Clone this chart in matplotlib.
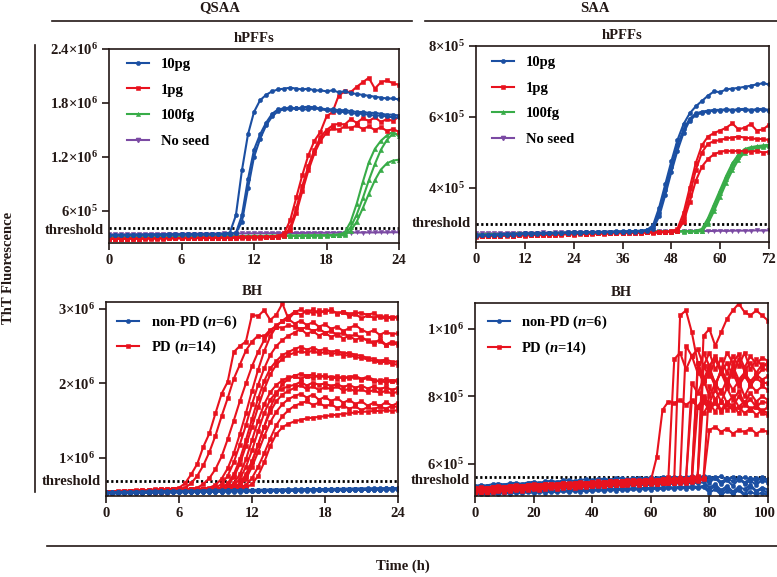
import matplotlib
matplotlib.use('Agg')
import matplotlib.pyplot as plt
import matplotlib.transforms as mtransforms
import numpy as np
from matplotlib.lines import Line2D

BLUE = '#1b4fa2'
RED = '#e8121e'
GREEN = '#38ac48'
PURPLE = '#7b4aa3'
INK = '#231815'

# ---------------- QSAA, hPFFs (values in 1e5 RFU, every 0.5 h) ----------------
qsaa_pff_time = np.arange(0, 24.5, 0.5)
qsaa_pff_10pg = [
    [3.30, 3.32, 3.31, 3.33, 3.34, 3.33, 3.35, 3.36, 3.35, 3.37,
     3.38, 3.37, 3.39, 3.40, 3.39, 3.41, 3.42, 3.41, 3.43, 3.48, 3.60,
     5.5, 10.5, 14.5, 17.0, 18.3, 18.9, 19.3, 19.5, 19.6, 19.7,
     19.6, 19.5, 19.6, 19.4, 19.4, 19.3, 19.4, 19.2, 19.3, 19.1,
     19.0, 18.9, 18.8, 18.7, 18.6, 18.5, 18.5, 18.4],
    [3.28, 3.30, 3.29, 3.31, 3.32, 3.31, 3.33, 3.34, 3.33, 3.35,
     3.36, 3.35, 3.37, 3.38, 3.37, 3.39, 3.40, 3.39, 3.41, 3.42, 3.45, 3.55,
     5.5, 9.5, 12.8, 14.5, 15.8, 16.8, 17.3, 17.4, 17.5, 17.4,
     17.5, 17.6, 17.5, 17.4, 17.3, 17.3, 17.2, 17.2, 17.1, 17.0,
     17.0, 16.9, 16.9, 16.8, 16.7, 16.7, 16.6],
    [3.32, 3.33, 3.34, 3.33, 3.35, 3.36, 3.35, 3.37, 3.38, 3.37,
     3.39, 3.40, 3.39, 3.41, 3.42, 3.41, 3.43, 3.44, 3.43, 3.45, 3.47, 3.52,
     4.8, 8.5, 12.0, 14.0, 15.5, 16.5, 17.1, 17.3, 17.3, 17.4,
     17.3, 17.3, 17.4, 17.3, 17.2, 17.1, 17.0, 17.0, 16.9, 16.8,
     16.8, 16.7, 16.6, 16.6, 16.5, 16.4, 16.4],
]
qsaa_pff_1pg = [
    [2.90, 2.92, 2.91, 2.93, 2.94, 2.93, 2.95, 2.96, 2.95, 2.97,
     2.98, 2.97, 2.99, 3.00, 2.99, 3.01, 3.02, 3.01, 3.03, 3.04,
     3.03, 3.05, 3.06, 3.05, 3.07, 3.08, 3.10, 3.14, 3.22,
     3.5, 5.0, 7.5, 10.0, 12.2, 13.8, 14.8, 16.5, 17.0, 18.8,
     19.3, 19.2, 19.8, 20.3, 20.8, 19.6, 20.3, 20.5, 20.2, 20.0],
    [2.88, 2.89, 2.90, 2.89, 2.91, 2.92, 2.91, 2.93, 2.94, 2.93,
     2.95, 2.96, 2.95, 2.97, 2.98, 2.97, 2.99, 3.00, 2.99, 3.01,
     3.02, 3.01, 3.03, 3.04, 3.03, 3.05, 3.06, 3.08, 3.12,
     3.2, 4.2, 6.3, 8.8, 11.0, 12.8, 14.2, 15.0, 15.5, 15.7,
     15.6, 16.2, 15.8, 16.3, 16.0, 16.4, 15.9, 16.2, 16.0, 16.5],
    [2.92, 2.93, 2.92, 2.94, 2.95, 2.94, 2.96, 2.97, 2.96, 2.98,
     2.99, 2.98, 3.00, 3.01, 3.00, 3.02, 3.03, 3.02, 3.04, 3.05,
     3.04, 3.06, 3.07, 3.06, 3.08, 3.09, 3.10, 3.12, 3.15,
     3.3, 3.9, 5.8, 8.2, 10.5, 12.4, 13.8, 14.7, 15.2, 15.0,
     15.4, 15.2, 15.5, 15.1, 15.4, 15.0, 15.3, 14.9, 15.1, 14.8],
]
qsaa_pff_100fg = [
    [3.05, 3.06, 3.05, 3.07, 3.08, 3.07, 3.09, 3.10, 3.09, 3.11,
     3.12, 3.11, 3.13, 3.14, 3.13, 3.15, 3.16, 3.15, 3.17, 3.18,
     3.17, 3.19, 3.20, 3.19, 3.21, 3.22, 3.21, 3.23, 3.24, 3.23,
     3.25, 3.26, 3.25, 3.27, 3.28, 3.27, 3.29, 3.32, 3.38,
     3.6, 4.8, 6.8, 9.2, 11.4, 12.9, 13.8, 14.4, 14.8, 14.3],
    [3.08, 3.07, 3.09, 3.10, 3.09, 3.11, 3.12, 3.11, 3.13, 3.14,
     3.13, 3.15, 3.16, 3.15, 3.17, 3.18, 3.17, 3.19, 3.20, 3.19,
     3.21, 3.22, 3.21, 3.23, 3.24, 3.23, 3.25, 3.26, 3.25, 3.27,
     3.28, 3.27, 3.29, 3.30, 3.29, 3.31, 3.32, 3.33, 3.35,
     3.4, 4.2, 5.6, 7.4, 9.4, 11.2, 12.8, 13.9, 14.6, 14.5],
    [3.03, 3.04, 3.05, 3.04, 3.06, 3.07, 3.06, 3.08, 3.09, 3.08,
     3.10, 3.11, 3.10, 3.12, 3.13, 3.12, 3.14, 3.15, 3.14, 3.16,
     3.17, 3.16, 3.18, 3.19, 3.18, 3.20, 3.21, 3.20, 3.22, 3.23,
     3.22, 3.24, 3.25, 3.24, 3.26, 3.27, 3.26, 3.28, 3.30,
     3.3, 3.8, 4.8, 6.3, 7.9, 9.4, 10.6, 11.3, 11.6, 11.7],
]
qsaa_pff_noseed = [
    [3.40, 3.41, 3.40, 3.42, 3.41, 3.43, 3.42, 3.44, 3.43, 3.45,
     3.44, 3.46, 3.45, 3.47, 3.46, 3.48, 3.47, 3.49, 3.48, 3.50,
     3.49, 3.51, 3.50, 3.52, 3.51, 3.53, 3.52, 3.54, 3.53, 3.55,
     3.54, 3.56, 3.55, 3.57, 3.56, 3.58, 3.57, 3.59, 3.58, 3.60,
     3.59, 3.61, 3.60, 3.62, 3.61, 3.63, 3.62, 3.64, 3.63],
]

# ---------------- SAA, hPFFs (values in 1e5 RFU, every 1.5 h) ----------------
saa_pff_time = np.arange(0, 73.5, 1.5)
saa_pff_10pg = [
    [2.66, 2.67, 2.68, 2.67, 2.69, 2.70, 2.69, 2.71, 2.72, 2.71,
     2.72, 2.73, 2.72, 2.74, 2.73, 2.74, 2.75, 2.74, 2.75, 2.76,
     2.75, 2.76, 2.77, 2.76, 2.77, 2.78, 2.77, 2.79, 2.82,
     2.95, 3.45, 4.10, 4.75, 5.35, 5.80, 6.10, 6.30, 6.45, 6.60,
     6.72, 6.70, 6.78, 6.80, 6.82, 6.85, 6.88, 6.92, 6.95, 6.92],
    [2.68, 2.67, 2.69, 2.68, 2.70, 2.69, 2.71, 2.70, 2.72, 2.71,
     2.73, 2.72, 2.74, 2.73, 2.74, 2.75, 2.74, 2.76, 2.75, 2.76,
     2.77, 2.76, 2.77, 2.78, 2.77, 2.78, 2.79, 2.80, 2.81,
     2.90, 3.30, 3.95, 4.60, 5.20, 5.65, 5.95, 6.10, 6.15, 6.18,
     6.20, 6.20, 6.22, 6.20, 6.22, 6.23, 6.20, 6.22, 6.23, 6.20],
    [2.67, 2.68, 2.67, 2.69, 2.68, 2.70, 2.71, 2.70, 2.71, 2.72,
     2.71, 2.73, 2.72, 2.73, 2.74, 2.73, 2.75, 2.74, 2.75, 2.76,
     2.75, 2.77, 2.76, 2.77, 2.78, 2.77, 2.78, 2.79, 2.80,
     2.85, 3.20, 3.80, 4.45, 5.05, 5.55, 5.90, 6.05, 6.12, 6.15,
     6.18, 6.18, 6.20, 6.18, 6.20, 6.20, 6.18, 6.20, 6.20, 6.18],
]
saa_pff_1pg = [
    [2.64, 2.65, 2.64, 2.66, 2.65, 2.67, 2.66, 2.68, 2.67, 2.69,
     2.68, 2.70, 2.69, 2.70, 2.71, 2.70, 2.71, 2.72, 2.71, 2.72,
     2.73, 2.72, 2.73, 2.74, 2.73, 2.74, 2.75, 2.74, 2.75, 2.76,
     2.75, 2.76, 2.78,
     2.85, 3.30, 4.00, 4.70, 5.20, 5.45, 5.55, 5.62, 5.70, 5.82,
     5.65, 5.70, 5.80, 5.62, 5.65, 5.78],
    [2.65, 2.64, 2.66, 2.65, 2.66, 2.67, 2.66, 2.68, 2.67, 2.68,
     2.69, 2.68, 2.70, 2.69, 2.70, 2.71, 2.70, 2.72, 2.71, 2.72,
     2.73, 2.72, 2.73, 2.74, 2.73, 2.75, 2.74, 2.75, 2.76, 2.75,
     2.76, 2.77, 2.77,
     2.80, 3.15, 3.80, 4.50, 5.00, 5.25, 5.32, 5.35, 5.40, 5.42,
     5.45, 5.42, 5.40, 5.38, 5.38, 5.35],
    [2.63, 2.64, 2.65, 2.64, 2.65, 2.66, 2.65, 2.67, 2.66, 2.67,
     2.68, 2.67, 2.69, 2.68, 2.69, 2.70, 2.69, 2.71, 2.70, 2.71,
     2.72, 2.71, 2.72, 2.73, 2.72, 2.74, 2.73, 2.74, 2.75, 2.74,
     2.75, 2.76, 2.76,
     2.78, 3.05, 3.60, 4.20, 4.60, 4.82, 4.95, 5.02, 5.05, 5.03,
     5.05, 5.03, 5.02, 5.05, 5.00, 5.02],
]
saa_pff_100fg = [
    [2.68, 2.69, 2.68, 2.70, 2.69, 2.70, 2.71, 2.70, 2.71, 2.72,
     2.71, 2.72, 2.73, 2.72, 2.73, 2.74, 2.73, 2.74, 2.75, 2.74,
     2.75, 2.75, 2.76, 2.75, 2.76, 2.76, 2.77, 2.76, 2.77, 2.77,
     2.78, 2.77, 2.78, 2.78, 2.79, 2.78, 2.79,
     2.85, 3.15, 3.55, 3.95, 4.35, 4.70, 4.95, 5.10, 5.15, 5.18,
     5.20, 5.22],
    [2.69, 2.68, 2.70, 2.69, 2.71, 2.70, 2.71, 2.72, 2.71, 2.72,
     2.73, 2.72, 2.73, 2.74, 2.73, 2.74, 2.75, 2.74, 2.75, 2.75,
     2.76, 2.75, 2.76, 2.76, 2.77, 2.76, 2.77, 2.77, 2.78, 2.77,
     2.78, 2.78, 2.79, 2.78, 2.79, 2.79, 2.79,
     2.80, 3.05, 3.45, 3.85, 4.25, 4.60, 4.88, 5.05, 5.12, 5.15,
     5.18, 5.20],
    [2.67, 2.68, 2.69, 2.68, 2.69, 2.70, 2.69, 2.70, 2.71, 2.70,
     2.71, 2.72, 2.71, 2.72, 2.73, 2.72, 2.73, 2.74, 2.73, 2.74,
     2.74, 2.75, 2.74, 2.75, 2.75, 2.76, 2.75, 2.76, 2.76, 2.77,
     2.76, 2.77, 2.77, 2.78, 2.77, 2.78, 2.78,
     2.78, 3.00, 3.35, 3.75, 4.15, 4.50, 4.80, 5.00, 5.10, 5.12,
     5.15, 5.18],
]
saa_pff_noseed = [
    [2.72, 2.72, 2.73, 2.72, 2.73, 2.73, 2.74, 2.73, 2.74, 2.74,
     2.74, 2.75, 2.74, 2.75, 2.75, 2.75, 2.76, 2.75, 2.76, 2.76,
     2.76, 2.76, 2.77, 2.76, 2.77, 2.77, 2.77, 2.77, 2.78, 2.77,
     2.78, 2.78, 2.78, 2.78, 2.79, 2.78, 2.79, 2.79, 2.79, 2.79,
     2.80, 2.79, 2.80, 2.80, 2.80, 2.80, 2.81, 2.80, 2.81],
]

# ---------------- QSAA, BH (values in 1e5 RFU, every 0.5 h) ----------------
qsaa_bh_time = np.arange(0, 24.5, 0.5)
qsaa_bh_nonpd = [
    [5.30, 5.31, 5.33, 5.34, 5.36, 5.37, 5.38, 5.40, 5.41, 5.42,
     5.44, 5.45, 5.46, 5.48, 5.49, 5.50, 5.51, 5.53, 5.54, 5.55,
     5.56, 5.57, 5.58, 5.60, 5.61, 5.62, 5.63, 5.64, 5.65, 5.66,
     5.67, 5.68, 5.69, 5.70, 5.71, 5.72, 5.73, 5.74, 5.75, 5.76,
     5.77, 5.78, 5.79, 5.80, 5.81, 5.82, 5.83, 5.84, 5.85],
    [5.38, 5.40, 5.41, 5.42, 5.44, 5.45, 5.47, 5.48, 5.49, 5.51,
     5.52, 5.53, 5.55, 5.56, 5.57, 5.58, 5.60, 5.61, 5.62, 5.63,
     5.64, 5.66, 5.67, 5.68, 5.69, 5.70, 5.71, 5.72, 5.73, 5.74,
     5.75, 5.76, 5.77, 5.78, 5.79, 5.80, 5.81, 5.82, 5.83, 5.84,
     5.85, 5.86, 5.87, 5.88, 5.89, 5.90, 5.91, 5.92, 5.93],
    [5.22, 5.24, 5.25, 5.26, 5.28, 5.29, 5.31, 5.32, 5.33, 5.35,
     5.36, 5.37, 5.38, 5.40, 5.41, 5.42, 5.43, 5.45, 5.46, 5.47,
     5.48, 5.49, 5.50, 5.51, 5.52, 5.54, 5.55, 5.56, 5.57, 5.58,
     5.59, 5.60, 5.61, 5.62, 5.63, 5.64, 5.65, 5.66, 5.67, 5.68,
     5.69, 5.70, 5.71, 5.72, 5.73, 5.74, 5.75, 5.76, 5.77],
    [5.34, 5.35, 5.37, 5.38, 5.39, 5.41, 5.42, 5.43, 5.45, 5.46,
     5.47, 5.49, 5.50, 5.51, 5.52, 5.54, 5.55, 5.56, 5.57, 5.58,
     5.60, 5.61, 5.62, 5.63, 5.64, 5.65, 5.66, 5.67, 5.68, 5.69,
     5.70, 5.71, 5.72, 5.73, 5.74, 5.75, 5.76, 5.77, 5.78, 5.79,
     5.80, 5.81, 5.82, 5.83, 5.84, 5.85, 5.86, 5.87, 5.88],
    [5.26, 5.27, 5.29, 5.30, 5.31, 5.33, 5.34, 5.35, 5.37, 5.38,
     5.39, 5.41, 5.42, 5.43, 5.44, 5.46, 5.47, 5.48, 5.49, 5.50,
     5.51, 5.53, 5.54, 5.55, 5.56, 5.57, 5.58, 5.59, 5.60, 5.61,
     5.62, 5.63, 5.64, 5.65, 5.66, 5.67, 5.68, 5.69, 5.70, 5.71,
     5.72, 5.73, 5.74, 5.75, 5.76, 5.77, 5.78, 5.79, 5.80],
    [5.42, 5.43, 5.45, 5.46, 5.47, 5.49, 5.50, 5.51, 5.53, 5.54,
     5.55, 5.57, 5.58, 5.59, 5.60, 5.62, 5.63, 5.64, 5.65, 5.66,
     5.68, 5.69, 5.70, 5.71, 5.72, 5.73, 5.74, 5.75, 5.76, 5.77,
     5.78, 5.79, 5.80, 5.81, 5.82, 5.83, 5.84, 5.85, 5.86, 5.87,
     5.88, 5.89, 5.90, 5.91, 5.92, 5.93, 5.94, 5.95, 5.96],
]
qsaa_bh_pd = [
    [5.5, 5.5, 5.6, 5.6, 5.6, 5.7, 5.7, 5.7, 5.8, 5.8, 5.8, 5.9, 6.0,
     6.6, 7.8, 9.2, 11.5, 13.3, 16.0, 18.6, 20.2, 24.2, 25.0, 25.6, 29.2,
     29.0, 29.8, 28.5, 29.2, 30.7, 28.6, 29.5, 29.9, 29.5, 29.9, 29.3,
     29.8, 29.7, 29.4, 29.6, 29.3, 29.5, 29.4, 29.2, 29.4, 28.9, 29.0, 28.8, 28.8],
    [5.5, 5.5, 5.5, 5.6, 5.6, 5.6, 5.7, 5.7, 5.7, 5.8, 5.8, 5.8, 5.9, 6.0,
     6.6, 7.6, 9.0, 10.8, 13.0, 15.6, 18.0, 20.6, 22.5, 24.4, 25.6, 26.4,
     26.3, 27.2, 27.6, 27.4, 27.8, 27.6, 27.3, 27.5, 27.0, 27.3, 26.8, 27.0,
     26.5, 26.8, 26.2, 26.6, 26.0, 25.8, 25.5, 25.7, 25.1, 25.4, 25.2],
    [5.5, 5.5, 5.5, 5.5, 5.6, 5.6, 5.6, 5.6, 5.7, 5.7, 5.7, 5.8, 5.8, 5.8, 5.9, 6.0,
     6.5, 7.3, 8.5, 10.2, 12.5, 15.0, 17.6, 20.0, 22.3, 24.2, 25.8, 27.0,
     27.8, 28.3, 28.6, 28.0, 28.4, 27.8, 28.2, 27.6, 27.9, 27.3, 27.6, 27.0,
     27.4, 27.8, 27.2, 26.8, 27.1, 26.5, 26.9, 26.6, 26.7],
    [5.5, 5.5, 5.5, 5.5, 5.6, 5.6, 5.6, 5.6, 5.7, 5.7, 5.7, 5.7, 5.8, 5.8, 5.8, 5.9, 5.9, 6.0,
     6.4, 7.2, 8.6, 10.6, 13.2, 16.0, 19.0, 21.8, 24.3, 26.3, 27.6, 28.4,
     29.0, 29.6, 29.2, 29.7, 29.4, 29.8, 29.5, 29.9, 29.3, 29.6, 29.0,
     29.3, 28.7, 29.1, 28.8, 29.0, 28.6, 28.9, 28.9],
    [5.5, 5.5, 5.5, 5.5, 5.6, 5.6, 5.6, 5.6, 5.6, 5.7, 5.7, 5.7, 5.7, 5.8, 5.8, 5.8, 5.9, 5.9, 6.0,
     6.5, 7.6, 9.4, 11.8, 14.4, 17.2, 19.8, 22.0, 23.8, 25.0, 25.8, 26.4,
     26.8, 27.3, 26.6, 27.0, 26.4, 26.8, 26.2, 26.6, 26.0, 26.4, 25.8,
     26.2, 25.7, 25.3, 25.9, 25.2, 25.6, 25.4],
    [5.5, 5.5, 5.5, 5.5, 5.5, 5.6, 5.6, 5.6, 5.6, 5.6, 5.7, 5.7, 5.7, 5.7, 5.8, 5.8, 5.8, 5.9, 5.9, 6.0,
     6.6, 7.8, 9.8, 12.4, 15.2, 18.0, 20.3, 22.0, 23.0, 23.8, 24.2, 24.6,
     24.9, 24.5, 24.8, 24.4, 24.6, 24.2, 24.4, 24.0, 24.1, 23.8, 23.7,
     23.4, 23.3, 23.0, 23.2, 22.9, 22.9],
    [5.4, 5.4, 5.5, 5.5, 5.5, 5.5, 5.6, 5.6, 5.6, 5.6, 5.6, 5.7, 5.7, 5.7, 5.7, 5.8, 5.8, 5.8, 5.9, 6.0,
     6.4, 7.4, 9.2, 11.6, 14.2, 16.8, 19.2, 21.2, 22.5, 23.3, 23.8, 24.1,
     24.3, 24.1, 24.4, 24.0, 24.2, 23.9, 24.1, 23.7, 23.8, 23.5, 23.4,
     23.2, 23.0, 22.8, 22.9, 22.6, 22.5],
    [5.4, 5.4, 5.5, 5.5, 5.5, 5.5, 5.5, 5.6, 5.6, 5.6, 5.6, 5.6, 5.7, 5.7, 5.7, 5.7, 5.8, 5.8, 5.8, 5.9, 6.0,
     6.6, 7.8, 9.8, 12.4, 15.0, 17.2, 18.8, 19.8, 20.4, 20.8, 21.0, 20.6,
     21.0, 20.7, 21.1, 20.8, 20.9, 20.6, 20.9, 20.7, 20.8, 20.5, 20.7,
     20.3, 20.4, 20.1, 20.3, 20.2],
    [5.4, 5.4, 5.4, 5.5, 5.5, 5.5, 5.5, 5.5, 5.6, 5.6, 5.6, 5.6, 5.6, 5.7, 5.7, 5.7, 5.7, 5.8, 5.8, 5.9, 6.0,
     6.3, 7.2, 8.8, 11.0, 13.6, 16.0, 17.8, 18.8, 19.3, 19.6, 19.8, 20.2,
     19.7, 20.1, 19.8, 20.0, 19.6, 19.9, 19.5, 19.8, 19.4, 19.7, 19.3,
     19.6, 19.2, 19.5, 19.1, 19.4],
    [5.4, 5.4, 5.4, 5.5, 5.5, 5.5, 5.5, 5.5, 5.6, 5.6, 5.6, 5.6, 5.6, 5.7, 5.7, 5.7, 5.7, 5.8, 5.8, 5.8, 5.9, 6.0,
     6.6, 7.8, 9.6, 11.8, 14.2, 16.2, 17.6, 18.5, 19.0, 19.4, 19.8, 19.2,
     19.6, 19.1, 19.5, 19.2, 19.6, 19.0, 19.3, 18.9, 19.2, 18.8, 19.1,
     18.7, 19.0, 18.6, 18.9],
    [5.3, 5.4, 5.4, 5.4, 5.5, 5.5, 5.5, 5.5, 5.5, 5.6, 5.6, 5.6, 5.6, 5.6, 5.7, 5.7, 5.7, 5.8, 5.8, 5.8, 5.9, 6.0,
     6.3, 7.2, 8.8, 10.8, 12.9, 14.8, 16.2, 17.2, 17.9, 18.3, 18.6, 18.1,
     18.5, 17.8, 18.2, 17.6, 18.0, 17.4, 17.8, 17.2, 17.6, 17.0, 17.4,
     16.9, 17.5, 17.0, 17.4],
    [5.3, 5.4, 5.4, 5.4, 5.4, 5.5, 5.5, 5.5, 5.5, 5.5, 5.6, 5.6, 5.6, 5.6, 5.6, 5.7, 5.7, 5.7, 5.7, 5.8, 5.8, 5.9, 6.0,
     6.4, 7.3, 8.8, 10.6, 12.6, 14.4, 15.6, 16.4, 17.0, 17.3, 17.6, 17.1,
     17.4, 16.9, 17.2, 16.7, 17.0, 16.6, 16.9, 16.4, 16.8, 16.5, 16.9,
     16.6, 17.0, 16.8],
    [5.3, 5.3, 5.4, 5.4, 5.4, 5.4, 5.5, 5.5, 5.5, 5.5, 5.5, 5.6, 5.6, 5.6, 5.6, 5.6, 5.7, 5.7, 5.7, 5.7, 5.8, 5.8, 5.9, 6.0,
     6.5, 7.6, 9.4, 11.6, 13.2, 14.1, 14.6, 14.9, 15.1, 15.3, 15.4, 15.5,
     15.6, 15.7, 15.8, 15.9, 16.0, 16.1, 16.2, 16.2, 16.3, 16.3, 16.4,
     16.3, 16.4],
    [5.4, 5.4, 5.5, 5.5, 5.5, 5.5, 5.5, 5.6, 5.6, 5.6, 5.6, 5.6, 5.7, 5.7, 5.7, 5.7, 5.7, 5.8, 5.8, 5.8, 5.9, 6.0,
     6.5, 7.6, 9.4, 11.7, 14.2, 16.7, 18.6, 19.9, 20.6, 21.0, 21.3, 21.0,
     21.2, 20.8, 21.1, 20.7, 21.0, 20.6, 20.9, 21.0, 20.6, 20.9, 20.5,
     20.2, 20.6, 20.3, 20.5],
]

# ---------------- SAA, BH (values in 1e5 RFU, every 2 h) ----------------
saa_bh_time = np.arange(0, 101, 2)
saa_bh_nonpd = [
    [5.35, 5.38, 5.36, 5.40, 5.42, 5.39, 5.43, 5.44, 5.41, 5.45,
     5.47, 5.44, 5.48, 5.50, 5.47, 5.51, 5.52, 5.49, 5.53, 5.54,
     5.52, 5.55, 5.56, 5.53, 5.57, 5.58, 5.55, 5.58, 5.59, 5.57,
     5.60, 5.58, 5.61, 5.59, 5.62, 5.60, 5.61, 5.63, 5.60, 5.64,
     5.62, 5.58, 5.63, 5.55, 5.60, 5.52, 5.61, 5.54, 5.59, 5.50, 5.56],
    [5.10, 5.12, 5.09, 5.13, 5.11, 5.14, 5.12, 5.15, 5.13, 5.16,
     5.14, 5.17, 5.15, 5.18, 5.16, 5.19, 5.17, 5.20, 5.18, 5.21,
     5.19, 5.22, 5.20, 5.23, 5.21, 5.24, 5.22, 5.25, 5.23, 5.26,
     5.24, 5.27, 5.25, 5.28, 5.26, 5.29, 5.27, 5.30, 5.28, 5.31,
     5.15, 5.25, 5.08, 5.20, 5.10, 5.22, 5.06, 5.18, 5.09, 5.15, 5.07],
    [5.25, 5.28, 5.26, 5.30, 5.27, 5.31, 5.29, 5.33, 5.30, 5.34,
     5.32, 5.36, 5.33, 5.37, 5.35, 5.39, 5.36, 5.40, 5.38, 5.42,
     5.39, 5.43, 5.41, 5.45, 5.42, 5.46, 5.44, 5.48, 5.45, 5.49,
     5.47, 5.50, 5.48, 5.52, 5.49, 5.53, 5.51, 5.54, 5.52, 5.55,
     5.45, 5.58, 5.40, 5.52, 5.35, 5.55, 5.42, 5.50, 5.38, 5.53, 5.44],
    [5.18, 5.20, 5.17, 5.21, 5.19, 5.23, 5.20, 5.24, 5.22, 5.25,
     5.23, 5.27, 5.24, 5.28, 5.26, 5.30, 5.27, 5.31, 5.29, 5.32,
     5.30, 5.34, 5.31, 5.35, 5.33, 5.37, 5.34, 5.38, 5.36, 5.39,
     5.37, 5.41, 5.38, 5.42, 5.40, 5.44, 5.41, 5.45, 5.43, 5.46,
     5.30, 5.40, 5.22, 5.35, 5.18, 5.32, 5.25, 5.38, 5.20, 5.30, 5.24],
    [5.30, 5.32, 5.35, 5.31, 5.36, 5.34, 5.38, 5.35, 5.39, 5.37,
     5.41, 5.38, 5.42, 5.40, 5.44, 5.41, 5.45, 5.43, 5.47, 5.44,
     5.48, 5.46, 5.50, 5.47, 5.51, 5.49, 5.53, 5.50, 5.54, 5.52,
     5.55, 5.53, 5.57, 5.54, 5.58, 5.56, 5.59, 5.57, 5.60, 5.58,
     5.50, 5.62, 5.46, 5.58, 5.48, 5.60, 5.45, 5.57, 5.49, 5.61, 5.52],
    [5.14, 5.16, 5.13, 5.17, 5.15, 5.18, 5.16, 5.19, 5.17, 5.20,
     5.18, 5.21, 5.19, 5.22, 5.20, 5.23, 5.21, 5.24, 5.22, 5.25,
     5.23, 5.26, 5.24, 5.27, 5.25, 5.28, 5.26, 5.29, 5.27, 5.30,
     5.28, 5.31, 5.29, 5.32, 5.30, 5.33, 5.31, 5.34, 5.32, 5.35,
     5.22, 5.36, 5.12, 5.30, 5.15, 5.28, 5.10, 5.33, 5.18, 5.26, 5.12],
]
saa_bh_pd = [
    [5.22, 5.25, 5.24, 5.28, 5.30, 5.29, 5.32, 5.33, 5.31, 5.35,
     5.36, 5.34, 5.38, 5.37, 5.39, 5.40, 5.38, 5.41, 5.42, 5.40,
     5.43, 5.44, 5.42, 5.45, 5.46, 5.44, 5.47, 5.48, 5.46, 5.49,
     5.50, 6.20, 7.60, 7.85, 7.80, 7.90, 7.75, 7.88, 7.70, 7.95,
     7.65, 7.90, 7.60, 7.85, 7.70, 8.00, 7.75, 7.92, 7.68, 7.85, 7.80],
    [5.18, 5.20, 5.22, 5.21, 5.25, 5.27, 5.26, 5.29, 5.30, 5.28,
     5.32, 5.33, 5.31, 5.35, 5.36, 5.34, 5.38, 5.37, 5.39, 5.40,
     5.38, 5.41, 5.42, 5.40, 5.43, 5.44, 5.42, 5.45, 5.46, 5.44,
     5.47, 5.48, 5.46, 5.49, 5.55, 10.40, 10.55, 9.90, 9.00, 8.50,
     8.80, 8.40, 8.70, 8.30, 8.90, 8.50, 8.70, 8.30, 8.60, 8.80, 8.80],
    [5.24, 5.23, 5.26, 5.28, 5.27, 5.30, 5.31, 5.30, 5.33, 5.34,
     5.33, 5.36, 5.37, 5.35, 5.39, 5.38, 5.40, 5.41, 5.40, 5.43,
     5.42, 5.44, 5.45, 5.43, 5.46, 5.47, 5.45, 5.48, 5.49, 5.47,
     5.50, 5.51, 5.49, 5.52, 5.53, 5.51, 5.54, 5.55, 5.60, 9.80,
     10.00, 9.50, 9.90, 10.30, 10.55, 10.75, 10.50, 10.40, 10.55, 10.40, 10.25],
    [5.20, 5.21, 5.23, 5.25, 5.24, 5.27, 5.28, 5.27, 5.30, 5.31,
     5.30, 5.33, 5.34, 5.32, 5.36, 5.35, 5.37, 5.38, 5.37, 5.40,
     5.39, 5.41, 5.42, 5.40, 5.43, 5.44, 5.43, 5.46, 5.45, 5.47,
     5.48, 5.47, 5.50, 5.60, 9.10, 9.30, 8.80, 9.20, 8.70, 9.30,
     8.90, 9.20, 8.80, 9.30, 9.00, 9.25, 8.85, 9.20, 8.95, 9.15, 9.05],
    [5.26, 5.27, 5.29, 5.28, 5.31, 5.32, 5.31, 5.34, 5.35, 5.33,
     5.37, 5.36, 5.38, 5.39, 5.38, 5.41, 5.42, 5.40, 5.43, 5.44,
     5.43, 5.45, 5.46, 5.45, 5.47, 5.48, 5.47, 5.49, 5.50, 5.49,
     5.51, 5.52, 5.50, 5.53, 5.54, 5.58, 9.50, 9.20, 9.40, 8.90,
     9.30, 8.80, 9.10, 8.70, 9.20, 8.90, 9.30, 8.80, 9.10, 8.90, 9.00],
    [5.16, 5.18, 5.17, 5.20, 5.22, 5.21, 5.24, 5.25, 5.24, 5.27,
     5.28, 5.27, 5.30, 5.31, 5.30, 5.33, 5.34, 5.33, 5.36, 5.35,
     5.37, 5.38, 5.37, 5.40, 5.41, 5.40, 5.42, 5.43, 5.42, 5.44,
     5.45, 5.44, 5.46, 5.47, 5.46, 5.48, 5.52, 8.40, 8.10, 8.50,
     8.00, 8.40, 8.10, 8.50, 8.20, 8.45, 8.00, 8.35, 8.15, 8.30, 8.20],
    [5.28, 5.30, 5.29, 5.32, 5.33, 5.32, 5.35, 5.36, 5.35, 5.38,
     5.39, 5.38, 5.40, 5.41, 5.40, 5.43, 5.42, 5.44, 5.45, 5.44,
     5.46, 5.47, 5.46, 5.48, 5.49, 5.48, 5.50, 5.51, 5.50, 5.52,
     5.53, 5.52, 5.54, 5.55, 5.54, 5.56, 5.55, 5.60, 8.80, 8.40,
     8.70, 8.30, 8.80, 8.50, 8.75, 8.40, 8.70, 8.45, 8.65, 8.50, 8.60],
    [5.14, 5.16, 5.15, 5.18, 5.19, 5.18, 5.21, 5.22, 5.21, 5.24,
     5.25, 5.24, 5.27, 5.28, 5.27, 5.30, 5.31, 5.30, 5.33, 5.32,
     5.34, 5.35, 5.34, 5.37, 5.38, 5.37, 5.39, 5.40, 5.39, 5.41,
     5.42, 5.41, 5.43, 5.44, 5.43, 5.45, 5.46, 5.50, 7.70, 7.50,
     7.80, 7.55, 7.85, 7.60, 7.75, 7.50, 7.80, 7.60, 7.75, 7.55, 7.70],
    [5.25, 5.26, 5.28, 5.27, 5.30, 5.31, 5.30, 5.33, 5.34, 5.33,
     5.36, 5.37, 5.36, 5.39, 5.38, 5.40, 5.41, 5.40, 5.42, 5.43,
     5.42, 5.44, 5.45, 5.44, 5.46, 5.47, 5.46, 5.48, 5.49, 5.48,
     5.50, 5.51, 5.50, 5.52, 5.53, 5.52, 5.54, 5.55, 5.62, 8.90,
     8.60, 9.10, 8.70, 9.00, 8.60, 9.10, 8.75, 9.00, 8.70, 8.95, 8.90],
    [5.20, 5.19, 5.22, 5.23, 5.22, 5.25, 5.26, 5.25, 5.28, 5.29,
     5.28, 5.31, 5.32, 5.31, 5.34, 5.33, 5.35, 5.36, 5.35, 5.38,
     5.37, 5.39, 5.40, 5.39, 5.41, 5.42, 5.41, 5.43, 5.44, 5.43,
     5.45, 5.46, 5.45, 5.47, 5.48, 5.47, 5.52, 7.90, 7.70, 7.85,
     7.60, 7.80, 7.55, 7.75, 7.60, 7.70, 7.50, 7.65, 7.45, 7.60, 7.50],
    [5.30, 5.31, 5.30, 5.33, 5.34, 5.33, 5.36, 5.37, 5.36, 5.39,
     5.40, 5.39, 5.41, 5.42, 5.41, 5.44, 5.43, 5.45, 5.46, 5.45,
     5.47, 5.48, 5.47, 5.49, 5.50, 5.49, 5.51, 5.52, 5.51, 5.53,
     5.54, 5.53, 5.55, 5.56, 5.55, 5.57, 5.56, 5.58, 5.65, 8.00,
     7.80, 8.20, 7.85, 8.25, 7.90, 8.15, 7.80, 8.10, 7.85, 8.00, 7.90],
    [5.17, 5.18, 5.20, 5.19, 5.22, 5.23, 5.22, 5.25, 5.26, 5.25,
     5.28, 5.29, 5.28, 5.31, 5.30, 5.32, 5.33, 5.32, 5.35, 5.34,
     5.36, 5.37, 5.36, 5.38, 5.39, 5.38, 5.40, 5.41, 5.40, 5.42,
     5.43, 5.42, 5.44, 5.45, 5.44, 5.46, 5.45, 5.47, 5.48, 5.55,
     7.00, 7.10, 6.95, 7.05, 6.90, 7.00, 6.95, 7.05, 6.90, 7.00, 6.95],
    [5.23, 5.24, 5.23, 5.26, 5.27, 5.26, 5.29, 5.30, 5.29, 5.32,
     5.33, 5.32, 5.35, 5.34, 5.36, 5.37, 5.36, 5.39, 5.38, 5.40,
     5.41, 5.40, 5.43, 5.42, 5.44, 5.45, 5.44, 5.46, 5.47, 5.46,
     5.48, 5.49, 5.48, 5.50, 5.51, 5.50, 5.52, 5.54, 9.00, 8.50,
     8.90, 8.30, 8.80, 8.40, 8.70, 8.30, 8.60, 8.35, 8.55, 8.40, 8.40],
    [5.21, 5.22, 5.24, 5.23, 5.26, 5.27, 5.26, 5.29, 5.30, 5.29,
     5.32, 5.31, 5.34, 5.35, 5.34, 5.37, 5.36, 5.38, 5.39, 5.38,
     5.40, 5.41, 5.40, 5.42, 5.43, 5.42, 5.44, 5.45, 5.44, 5.46,
     5.47, 5.46, 5.48, 5.49, 5.48, 5.50, 5.49, 5.51, 5.52, 5.58,
     8.30, 7.90, 8.20, 7.80, 8.00, 7.70, 7.85, 7.60, 7.70, 7.50, 7.45],
]

# thresholds (1e5 RFU)
thresholds = {'qsaa_pff': 4.1, 'saa_pff': 3.0, 'qsaa_bh': 6.9, 'saa_bh': 5.62}

pff_labels = ['10pg', '1pg', '100fg', 'No seed']
bh_labels = ['non-PD ($n$=6)', 'PD ($n$=14)']

plt.rcParams['font.family'] = ['Liberation Serif', 'DejaVu Serif']
plt.rcParams['font.weight'] = 'bold'
plt.rcParams['mathtext.fontset'] = 'custom'
plt.rcParams['mathtext.rm'] = 'Liberation Serif:bold'
plt.rcParams['mathtext.it'] = 'Liberation Serif:italic:bold'
plt.rcParams['mathtext.bf'] = 'Liberation Serif:bold'

W, H = 777, 577
fig = plt.figure(figsize=(W / 100, H / 100), dpi=100)


def px_box(left, top, right, bottom):
    return [left / W, 1 - bottom / H, (right - left) / W, (bottom - top) / H]


ax1 = fig.add_axes(px_box(109, 49, 399, 243))
ax2 = fig.add_axes(px_box(476, 46, 769, 242))
ax3 = fig.add_axes(px_box(106, 302, 398, 496))
ax4 = fig.add_axes(px_box(475, 303, 768, 496))

LW = 1.5
MS = 3.0


def sci(mant, exp):
    return mant + '×10$^{' + exp + '}$'


def draw(ax, t, curves, color, marker, z=2):
    h = None
    for y in curves:
        h, = ax.plot(t, y, color=color, lw=LW, marker=marker, ms=MS,
                     mec=color, mfc=color, mew=0.4, zorder=z)
    return h


def style(ax, xmax, xticks, ylim, yticks, ylabels, thr, thr_dy, title):
    ax.set_xlim(0, xmax)
    ax.set_ylim(*ylim)
    ax.set_xticks(xticks)
    ax.set_yticks(yticks)
    ax.set_yticklabels(ylabels)
    for s in ax.spines.values():
        s.set_linewidth(1.2)
        s.set_color(INK)
    ax.tick_params(direction='out', length=5, width=1.2, color=INK,
                   labelsize=10.5, pad=3, labelcolor=INK)
    ax.axhline(thr, color='black', lw=2.0, ls=(0, (0.8, 0.9)), zorder=1)
    ax.annotate('threshold', xy=(0, thr), xycoords=ax.get_yaxis_transform(),
                xytext=(-4, thr_dy), textcoords='offset points',
                ha='right', va='center', fontsize=10.5, fontweight='bold', color=INK)
    ax.set_title(title, fontsize=10.5, fontweight='bold', pad=5, color=INK)


def add_legend(ax, handles, labels, anchor, spacing):
    ax.legend(handles, labels, loc='upper left', bbox_to_anchor=anchor,
              frameon=False, borderpad=0, borderaxespad=0, handlelength=1.5,
              handletextpad=0.8, labelspacing=spacing, fontsize=10.5, numpoints=1)


# panel 1
draw(ax1, qsaa_pff_time, qsaa_pff_noseed, PURPLE, 'v')
hg = draw(ax1, qsaa_pff_time, qsaa_pff_100fg, GREEN, '^')
hr = draw(ax1, qsaa_pff_time, qsaa_pff_1pg, RED, 's')
hb = draw(ax1, qsaa_pff_time, qsaa_pff_10pg, BLUE, 'o')
hp = Line2D([], [], color=PURPLE, lw=LW, marker='v', ms=MS)
style(ax1, 24, [0, 6, 12, 18, 24], (2.44, 24), [6, 12, 18, 24],
      [sci('6', '5'), sci('1.2', '6'), sci('1.8', '6'), sci('2.4', '6')],
      thresholds['qsaa_pff'], -2, 'hPFFs')
add_legend(ax1, [hb, hr, hg, hp], pff_labels, (0.062, 0.955), 0.85)

# panel 2
draw(ax2, saa_pff_time, saa_pff_noseed, PURPLE, 'v')
hg = draw(ax2, saa_pff_time, saa_pff_100fg, GREEN, '^')
hr = draw(ax2, saa_pff_time, saa_pff_1pg, RED, 's')
hb = draw(ax2, saa_pff_time, saa_pff_10pg, BLUE, 'o')
style(ax2, 72, [0, 12, 24, 36, 48, 60, 72], (2.48, 8.0), [4, 6, 8],
      [sci('4', '5'), sci('6', '5'), sci('8', '5')],
      thresholds['saa_pff'], 0, 'hPFFs')
add_legend(ax2, [hb, hr, hg, hp], pff_labels, (0.055, 0.95), 0.85)

# panel 3
hr = draw(ax3, qsaa_bh_time, qsaa_bh_pd, RED, 's')
hb = draw(ax3, qsaa_bh_time, qsaa_bh_nonpd, BLUE, 'o', z=2.5)
style(ax3, 24, [0, 6, 12, 18, 24], (4.9, 30.9), [10, 20, 30],
      [sci('1', '6'), sci('2', '6'), sci('3', '6')],
      thresholds['qsaa_bh'], 0, 'BH')
add_legend(ax3, [hb, hr], bh_labels, (0.038, 0.94), 0.55)

# panel 4
hb = draw(ax4, saa_bh_time, saa_bh_nonpd, BLUE, 'o')
hr = draw(ax4, saa_bh_time, saa_bh_pd, RED, 's', z=2.5)
style(ax4, 100, [0, 20, 40, 60, 80, 100], (5.05, 10.77), [6, 8, 10],
      [sci('6', '5'), sci('8', '5'), sci('1', '6')],
      thresholds['saa_bh'], -3, 'BH')
add_legend(ax4, [hb, hr], bh_labels, (0.044, 0.945), 0.6)
# keep the last x label inside the canvas
last = ax4.get_xticklabels()[-1]
last.set_transform(last.get_transform() + mtransforms.ScaledTranslation(-3 / 100, 0, fig.dpi_scale_trans))


# figure-level labels and rules
def fig_line(x0, y0, x1, y1):
    fig.add_artist(Line2D([x0 / W, x1 / W], [1 - y0 / H, 1 - y1 / H],
                          transform=fig.transFigure, color=INK, lw=1.2))


fig_line(52, 21, 412, 21)
fig_line(425, 21, 777, 21)
fig_line(35, 45, 35, 492)
fig_line(47, 546, 777, 546)
fig.text(220 / W, 1 - 8 / H, 'QSAA', ha='center', va='center', fontsize=10.5, fontweight='bold', color=INK)
fig.text(595 / W, 1 - 8 / H, 'SAA', ha='center', va='center', fontsize=10.5, fontweight='bold', color=INK)
fig.text(9 / W, 1 - 268 / H, 'ThT Fluorescence', ha='center', va='center', rotation=90,
         fontsize=10.5, fontweight='bold', color=INK)
fig.text(403 / W, 1 - 566 / H, 'Time (h)', ha='center', va='center', fontsize=10.5, fontweight='bold', color=INK)

fig.savefig('out.png', dpi=100)
